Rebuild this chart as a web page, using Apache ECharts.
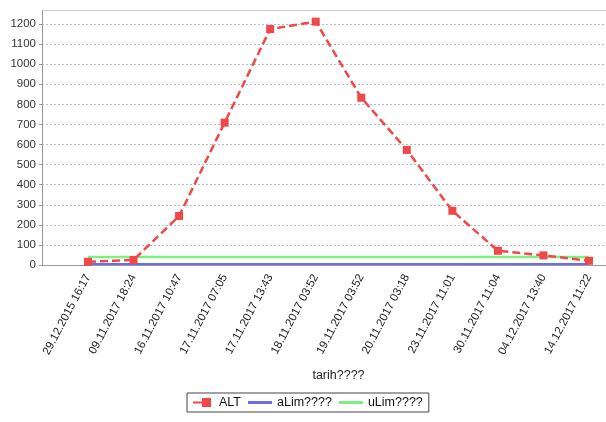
<!DOCTYPE html>
<html><head><meta charset="utf-8">
<script src="https://cdn.jsdelivr.net/npm/echarts@6/dist/echarts.min.js"></script>
<style>html,body{margin:0;padding:0;background:#fff}#c{width:606px;height:422px}</style>
</head><body><div id="c"></div>
<script>
var categories = ['29.12.2015 16:17','09.11.2017 18:24','16.11.2017 10:47','17.11.2017 07:05','17.11.2017 13:43','18.11.2017 03:52','19.11.2017 03:52','20.11.2017 03:18','23.11.2017 11:01','30.11.2017 11:04','04.12.2017 13:40','14.12.2017 11:22'];
var altValues = [16, 25, 244, 709, 1175, 1212, 833, 573, 270, 71, 48, 21];
var aLimValues = [5, 5, 5, 5, 5, 5, 5, 5, 5, 5, 5, 5];
var uLimValues = [40, 40, 40, 40, 40, 40, 40, 40, 40, 40, 40, 40];
var yTicks = [0,100,200,300,400,500,600,700,800,900,1000,1100,1200];

var chart = echarts.init(document.getElementById('c'));
var font = 'Liberation Sans, Arial, sans-serif';
var yMin = 0, yMax = 1270;
chart.setOption({
  animation: false,
  grid: [
    {left: 42, right: 0, top: 10, bottom: 157},
    {left: 88, right: 17, top: 10, bottom: 157}
  ],
  legend: {
    left: 187, top: 393, itemGap: 7, itemWidth: 24, itemHeight: 9,
    borderColor: '#444', borderWidth: 1, borderRadius: 0, padding: [3, 6],
    textStyle: {fontFamily: font, fontSize: 12.5, color: '#111'},
    data: [
      {name: 'ALT', icon: 'path://M0,4L10,4L10,0L20,0L20,10L10,10L10,6L0,6Z'},
      {name: 'aLim????', icon: 'path://M0,0L24,0L24,3L0,3Z'},
      {name: 'uLim????', icon: 'path://M0,0L24,0L24,3L0,3Z'}
    ]
  },
  xAxis: [
    {gridIndex: 0, type: 'category', data: categories, boundaryGap: false,
      axisLine: {lineStyle: {color: '#999', width: 1}}, axisTick: {show: false}, axisLabel: {show: false}, splitLine: {show: false}},
    {gridIndex: 0, type: 'category', position: 'top', data: categories,
      axisLine: {lineStyle: {color: '#ccc', width: 1}}, axisTick: {show: false}, axisLabel: {show: false}, splitLine: {show: false}},
    {gridIndex: 1, type: 'category', data: categories, boundaryGap: false,
      axisLine: {show: false}, axisTick: {show: false}, splitLine: {show: false},
      axisLabel: {rotate: 62, fontFamily: font, fontSize: 11.5, color: '#222', margin: 10, interval: 0},
      name: 'tarih????', nameLocation: 'middle', nameGap: 104,
      nameTextStyle: {fontFamily: font, fontSize: 12.5, color: '#222'}}
  ],
  yAxis: [
    {gridIndex: 0, type: 'value', min: yMin, max: yMax, interval: 100,
      axisLine: {show: true, lineStyle: {color: '#999'}},
      axisTick: {show: true, length: 3, lineStyle: {color: '#999'}},
      axisLabel: {showMaxLabel: false, fontFamily: font, fontSize: 11.5, color: '#333', margin: 6,
        formatter: function(v){ return yTicks.indexOf(v) >= 0 ? String(v) : ''; }},
      splitLine: {show: true, lineStyle: {color: '#bbb', type: [2, 2], width: 1}}},
    {gridIndex: 1, type: 'value', min: yMin, max: yMax, show: false, splitLine: {show: false}}
  ],
  series: [
    {name: 'ALT', type: 'line', xAxisIndex: 2, yAxisIndex: 1, data: altValues, z: 5,
      symbol: 'rect', symbolSize: 8, color: '#f04848',
      itemStyle: {color: '#f04848'},
      lineStyle: {color: '#f04848', width: 2.5, type: [8, 4]}},
    {name: 'aLim????', type: 'line', xAxisIndex: 2, yAxisIndex: 1, data: aLimValues, z: 3,
      symbol: 'none', color: '#6c6cf0', lineStyle: {color: '#6c6cf0', width: 2}},
    {name: 'uLim????', type: 'line', xAxisIndex: 2, yAxisIndex: 1, data: uLimValues, z: 3,
      symbol: 'none', color: '#7ef07e', lineStyle: {color: '#7ef07e', width: 2.5}}
  ]
});
</script></body></html>
